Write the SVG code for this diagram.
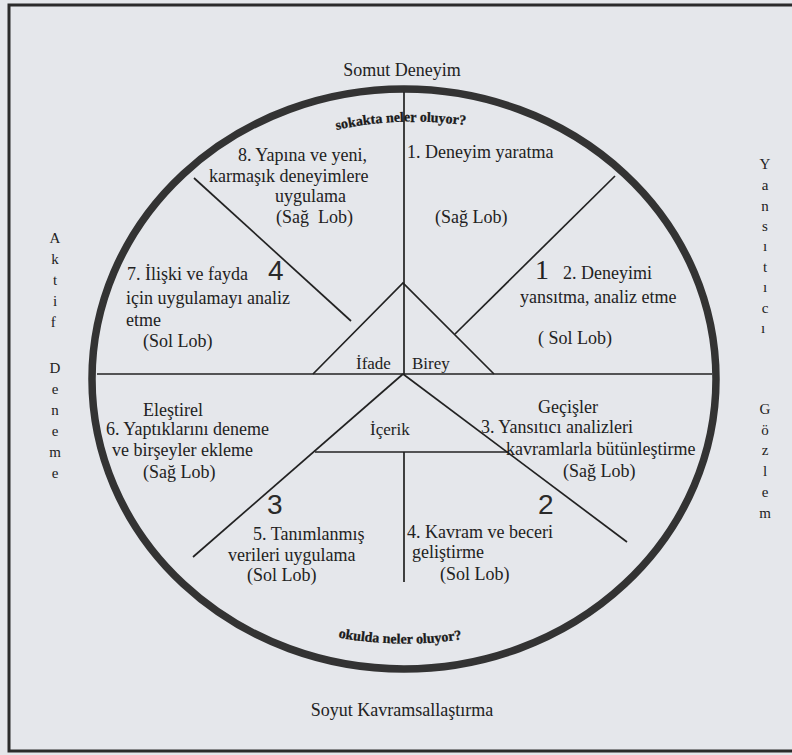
<svg xmlns="http://www.w3.org/2000/svg" width="792" height="755" viewBox="0 0 792 755">
<style>
.t{font-family:"Liberation Serif","Times New Roman",serif;font-size:18px;fill:#222}
.c{font-size:17px}
.arc{font-family:"Liberation Serif","Times New Roman",serif;font-size:14px;font-weight:bold;fill:#1a1a1a;stroke:#1a1a1a;stroke-width:0.3}
.big{font-family:"Liberation Serif","Times New Roman",serif;font-size:28px;fill:#222}
.bigs{font-family:"Liberation Sans",Arial,sans-serif;font-size:28px;fill:#2a2a2a}
.side{font-family:"Liberation Serif","Times New Roman",serif;font-size:15px;fill:#222}
.ln{stroke:#222;stroke-width:1.7;fill:none}
</style>
<defs>
<path id="arcTop" d="M 332 131 Q 400 115 470 126"/>
<path id="arcBot" d="M 330 636 Q 400 650 470 638"/>
</defs>
<rect x="0" y="0" width="792" height="755" fill="#e5e7eb"/>
<path d="M 792 5 H 9 V 751 H 792" fill="none" stroke="#2b2b2b" stroke-width="3"/>
<g id="ring">
<ellipse cx="404" cy="379" rx="312" ry="290" fill="none" stroke="#333" stroke-width="7.5"/>
</g>
<g id="connectors">
<line class="ln" x1="404" y1="92" x2="404" y2="374"/>
<line class="ln" x1="97" y1="374" x2="712" y2="374"/>
<line class="ln" x1="404" y1="452" x2="404" y2="582"/>
<polyline class="ln" points="313,374 403,283 494,374"/>
<line class="ln" x1="615" y1="176" x2="455" y2="334"/>
<line class="ln" x1="194" y1="178" x2="351" y2="321"/>
<line class="ln" x1="403" y1="374" x2="627" y2="542"/>
<line class="ln" x1="403" y1="374" x2="193" y2="557"/>
<line class="ln" x1="315" y1="452" x2="508" y2="452"/>
</g>
<g id="axis-top"><text class="t" x="402" y="76" text-anchor="middle">Somut Deneyim</text></g>
<g id="axis-bottom"><text class="t" x="402" y="716" text-anchor="middle">Soyut Kavramsallaştırma</text></g>
<g id="arc-top"><text class="arc"><textPath href="#arcTop" startOffset="50%" text-anchor="middle">sokakta neler oluyor?</textPath></text></g>
<g id="arc-bottom"><text class="arc"><textPath href="#arcBot" startOffset="50%" text-anchor="middle">okulda neler oluyor?</textPath></text></g>
<g id="axis-left"><text class="side" text-anchor="middle">
<tspan x="55" y="243">A</tspan><tspan x="55" y="264">k</tspan><tspan x="55" y="285">t</tspan><tspan x="55" y="306">i</tspan><tspan x="55" y="327">f</tspan>
<tspan x="55" y="373">D</tspan><tspan x="55" y="394">e</tspan><tspan x="55" y="415">n</tspan><tspan x="55" y="436">e</tspan><tspan x="55" y="457">m</tspan><tspan x="55" y="478">e</tspan>
</text></g>
<g id="axis-right"><text class="side" text-anchor="middle">
<tspan x="765" y="169">Y</tspan><tspan x="765" y="190">a</tspan><tspan x="765" y="211">n</tspan><tspan x="765" y="231">s</tspan><tspan x="765" y="251">ı</tspan><tspan x="765" y="272">t</tspan><tspan x="765" y="292">ı</tspan><tspan x="765" y="313">c</tspan><tspan x="765" y="333">ı</tspan>
<tspan x="765" y="414">G</tspan><tspan x="765" y="435">ö</tspan><tspan x="765" y="455">z</tspan><tspan x="765" y="476">l</tspan><tspan x="765" y="497">e</tspan><tspan x="765" y="518">m</tspan>
</text></g>
<g id="step1">
<text class="t" x="407" y="158">1. Deneyim yaratma</text>
<text class="t" x="435" y="223">(Sağ Lob)</text>
</g>
<g id="step2">
<text class="big" x="535" y="279">1</text>
<text class="t" x="563" y="279">2. Deneyimi</text>
<text class="t" x="520" y="303">yansıtma, analiz etme</text>
<text class="t" x="538" y="344">( Sol Lob)</text>
</g>
<g id="step8">
<text class="t" x="238" y="161">8. Yapına ve yeni,</text>
<text class="t" x="209" y="182">karmaşık deneyimlere</text>
<text class="t" x="275" y="202">uygulama</text>
<text class="t" x="276" y="223" xml:space="preserve">(Sağ  Lob)</text>
</g>
<g id="step7">
<text class="bigs" x="268" y="280">4</text>
<text class="t" x="127" y="280">7. İlişki ve fayda</text>
<text class="t" x="126" y="304">için uygulamayı analiz</text>
<text class="t" x="126" y="326">etme</text>
<text class="t" x="143" y="347">(Sol Lob)</text>
</g>
<g id="center">
<text class="t c" x="356" y="369">İfade</text>
<text class="t c" x="412" y="369">Birey</text>
<text class="t c" x="370" y="435">İçerik</text>
</g>
<g id="step6">
<text class="t" x="143" y="416">Eleştirel</text>
<text class="t" x="106" y="435">6. Yaptıklarını deneme</text>
<text class="t" x="112" y="456">ve birşeyler ekleme</text>
<text class="t" x="143" y="478">(Sağ Lob)</text>
</g>
<g id="step5">
<text class="bigs" x="267" y="514">3</text>
<text class="t" x="253" y="540">5. Tanımlanmış</text>
<text class="t" x="228" y="561">verileri uygulama</text>
<text class="t" x="247" y="581">(Sol Lob)</text>
</g>
<g id="step3">
<text class="t" x="538" y="413">Geçişler</text>
<text class="t" x="481" y="433">3. Yansıtıcı analizleri</text>
<text class="t" x="506" y="455">kavramlarla bütünleştirme</text>
<text class="t" x="563" y="477">(Sağ Lob)</text>
</g>
<g id="step4">
<text class="bigs" x="538" y="514">2</text>
<text class="t" x="407" y="538">4. Kavram ve beceri</text>
<text class="t" x="412" y="558">geliştirme</text>
<text class="t" x="440" y="580">(Sol Lob)</text>
</g>
</svg>
